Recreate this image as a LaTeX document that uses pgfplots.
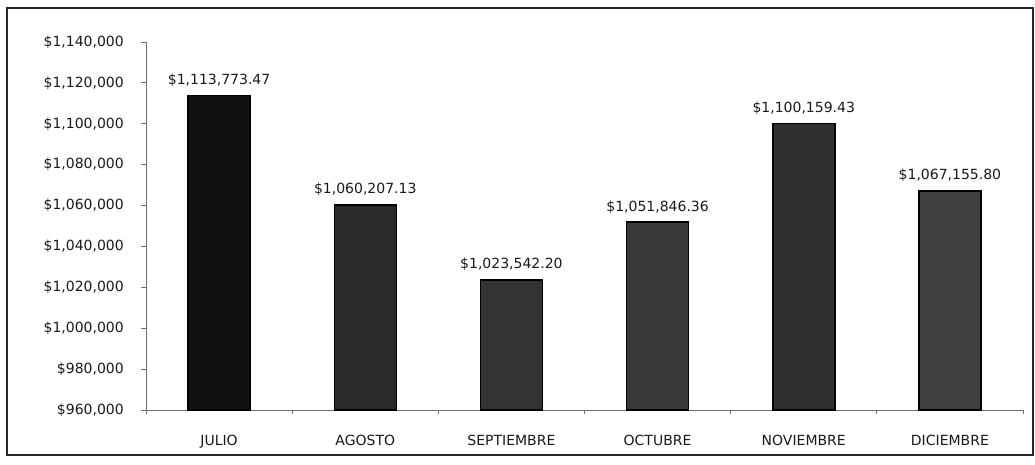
\documentclass[border=0pt]{standalone}
\usepackage{pgfplots}
\pgfplotsset{compat=1.18}
\usepackage{fontspec}
\setmainfont{DejaVu Sans}

\definecolor{barA}{HTML}{111111}
\definecolor{barB}{HTML}{2B2B2B}
\definecolor{barC}{HTML}{333333}
\definecolor{barD}{HTML}{383838}
\definecolor{barE}{HTML}{303030}
\definecolor{barF}{HTML}{404040}
\definecolor{axisgray}{HTML}{707070}

\begin{document}
\begin{tikzpicture}[x=1pt,y=1pt]
% page = 1035 x 464, axis origin placed at (146,54) from lower left
\useasboundingbox (0,0) rectangle (1035,464);
\draw[line width=2pt, black!85] (7,9) rectangle (1033,456);
\begin{axis}[
  at={(146pt,54pt)}, anchor=south west,
  scale only axis, width=877pt, height=368pt,
  xmin=-0.5, xmax=5.5,
  ymin=960000, ymax=1140000,
  ytick={960000,980000,...,1140000},
  yticklabel={\$\pgfmathprintnumber[fixed,1000 sep={,}]{\tick}},
  scaled y ticks=false,
  xtick={0,...,5},
  xticklabels={JULIO,AGOSTO,SEPTIEMBRE,OCTUBRE,NOVIEMBRE,DICIEMBRE},
  minor xtick={-0.5,0.5,...,5.5},
  axis lines*=left,
  axis line style={axisgray, line width=0.8pt},
  tick align=outside,
  major tick length=5pt, minor tick length=4pt,
  x tick style={draw=none},
  minor x tick style={draw=axisgray, line width=0.8pt},
  y tick style={axisgray, line width=0.8pt},
  tick label style={font=\fontsize{14}{16}\selectfont, text=black!90},
  /pgf/number format/assume math mode=true,
  yticklabel style={inner sep=0pt, xshift=-17pt},
  xticklabel style={yshift=-17pt},
  ybar, bar width=62pt, bar shift=0pt,
  nodes near coords, point meta=explicit symbolic,
  every node near coord/.append style={font=\fontsize{14}{16}\selectfont, text=black!90, yshift=5pt},
  clip=false,
]
\addplot[draw=black, fill=barA, line width=1.5pt] coordinates {(0,1113773.47) [\$1,113,773.47]};
\addplot[draw=black, fill=barB, line width=1.5pt] coordinates {(1,1060207.13) [\$1,060,207.13]};
\addplot[draw=black, fill=barC, line width=1.5pt] coordinates {(2,1023542.20) [\$1,023,542.20]};
\addplot[draw=black, fill=barD, line width=1.5pt] coordinates {(3,1051846.36) [\$1,051,846.36]};
\addplot[draw=black, fill=barE, line width=1.5pt] coordinates {(4,1100159.43) [\$1,100,159.43]};
\addplot[draw=black, fill=barF, line width=1.5pt] coordinates {(5,1067155.80) [\$1,067,155.80]};
\end{axis}
\end{tikzpicture}
\end{document}
